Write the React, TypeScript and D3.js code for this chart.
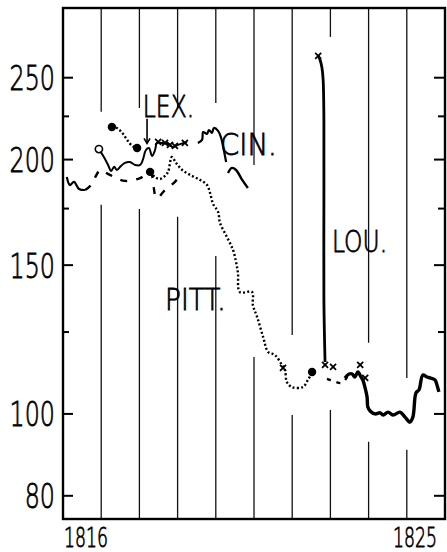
import React from "react";
import * as d3 from "d3";

type P = [number, number];

// ---- axis / tick data ----
const yMajorTicks = [80, 100, 150, 200, 250];
const yMinorTicks = [125, 175, 225];
const yearLabels: [number, string, "start" | "end"][] = [
  [1816, "1816", "start"],
  [1826, "1825", "end"],
];
const gridYears = [1817, 1818, 1819, 1820, 1821, 1822, 1823, 1824, 1825];
// visible pieces of each yearly rule, as [upper value, lower value]
const gridPieces: [number, number][][] = [
  [[302.3, 227.8], [176.8, 75.1]],
  [[302.3, 230.2], [174.8, 75.1]],
  [[302.3, 230.8], [171.1, 75.1]],
  [[302.3, 233.4], [153.8, 75.1]],
  [[302.3, 197.1], [116.8, 75.1]],
  [[302.3, 124.0], [99.7, 75.1]],
  [[302.3, 279.4], [101.1, 75.1]],
  [[302.3, 121.4], [92.7, 75.1]],
  [[302.3, 110.3], [90.7, 75.1]],
];

// ---- series ----
const lexDotted: P[] = [
  [1817.28, 218.6], [1817.41, 218.0], [1817.55, 215.1], [1817.68, 211.0],
  [1817.81, 207.6], [1817.94, 206.4],
];
const lexDots: P[] = [[1817.28, 218.6], [1817.94, 206.4]];

const cinA: P[] = [
  [1816.94, 205.8], [1817.07, 201.4], [1817.18, 197.1], [1817.26, 193.9],
  [1817.34, 196.1], [1817.41, 194.4], [1817.52, 196.6], [1817.62, 198.2],
  [1817.75, 198.7], [1817.89, 197.1], [1818.02, 197.1], [1818.09, 199.8],
  [1818.17, 205.3], [1818.25, 206.4], [1818.33, 202.0], [1818.41, 205.3],
  [1818.46, 209.3], [1818.59, 209.3], [1818.75, 208.7], [1818.88, 207.0],
  [1819.01, 208.2], [1819.25, 209.9],
];
const cinOpen: P[] = [[1816.94, 205.8]];
const cinCrosses: P[] = [
  [1818.49, 209.9], [1818.67, 209.3], [1818.8, 208.2], [1818.93, 207.6], [1819.19, 209.3],
];
const cinB: P[] = [
  [1819.53, 209.3], [1819.64, 211.0], [1819.67, 215.6], [1819.77, 214.5],
  [1819.82, 216.8], [1819.9, 215.1], [1819.95, 218.0], [1820.06, 216.3],
  [1820.14, 212.1], [1820.22, 204.2], [1820.27, 198.7],
];
const cinC: P[] = [
  [1820.32, 192.8], [1820.42, 195.5], [1820.53, 194.4], [1820.69, 189.2], [1820.84, 185.1],
];

const otherSolid: P[] = [
  [1816.1, 190.7], [1816.18, 186.6], [1816.29, 188.2], [1816.42, 184.6], [1816.58, 184.1],
];
const otherDashed: P[] = [
  [1816.58, 184.1], [1816.71, 186.1], [1816.89, 192.3], [1816.97, 194.4],
  [1817.23, 191.8], [1817.62, 188.7], [1818.02, 190.2], [1818.28, 193.4],
  [1818.45, 180.1], [1818.67, 184.1], [1818.93, 188.2], [1819.01, 190.2],
];

const pitt: P[] = [
  [1818.28, 193.4], [1818.41, 190.7], [1818.54, 189.7], [1818.67, 191.3],
  [1818.75, 193.4], [1818.85, 201.4], [1818.96, 198.2], [1819.12, 194.4],
  [1819.33, 191.8], [1819.59, 189.2], [1819.77, 186.6], [1819.85, 182.6],
  [1819.93, 177.2], [1820.06, 173.4], [1820.11, 168.3], [1820.29, 162.0],
  [1820.45, 156.4], [1820.53, 151.3], [1820.58, 146.8], [1820.63, 139.4],
  [1820.95, 139.4], [1820.97, 134.6], [1821.08, 130.3], [1821.24, 123.3],
  [1821.37, 118.4], [1821.55, 117.4], [1821.73, 114.3], [1821.81, 112.7],
  [1821.86, 109.1], [1821.99, 107.6], [1822.28, 107.6], [1822.41, 109.7],
  [1822.52, 111.8],
];
const pittDots: P[] = [[1818.28, 193.4], [1822.52, 112.1]];
const pittCross: P[] = [[1821.76, 113.4]];

const louSpike: P[] = [
  [1822.68, 265.3], [1822.73, 262.4], [1822.78, 256.7], [1822.81, 248.5],
  [1822.83, 222.8], [1822.83, 179.2], [1822.83, 136.4], [1822.86, 115.2],
];
const louCrosses: P[] = [
  [1822.68, 265.3], [1822.86, 114.3], [1823.07, 113.7], [1823.78, 114.3], [1823.91, 110.3],
];
const louDashed: P[] = [
  [1822.91, 110.0], [1823.07, 109.4], [1823.3, 108.8], [1823.44, 110.6],
];
const louThick: P[] = [
  [1823.38, 110.3], [1823.49, 111.5], [1823.57, 111.5], [1823.64, 110.6],
  [1823.72, 112.1], [1823.8, 110.6], [1823.85, 109.7], [1823.91, 107.3],
  [1823.96, 104.7], [1823.98, 101.9], [1824.04, 100.8], [1824.17, 100.0],
  [1824.3, 100.3], [1824.38, 99.7], [1824.51, 100.5], [1824.64, 99.7],
  [1824.82, 100.5], [1824.95, 99.2], [1825.08, 97.8], [1825.16, 99.2],
  [1825.24, 105.9], [1825.32, 106.8], [1825.42, 111.2], [1825.53, 110.6],
  [1825.61, 110.3], [1825.74, 109.7], [1825.79, 108.2], [1825.84, 106.2],
];

const seriesLabels: [string, number, number][] = [
  ["LEX.", 1818.09, 224.6],
  ["CIN.", 1820.11, 202.5],
  ["PITT.", 1818.67, 132.7],
  ["LOU.", 1823.04, 155.5],
];
const lexPointer: P[] = [[1818.2, 223.5], [1818.2, 209.0]];

// horizontal squeeze of the lettering (style only)
const labelSqueeze: Record<string, number> = { "LEX.": 0.78, "CIN.": 0.92, "PITT.": 0.88, "LOU.": 0.78 };

// ---- scales ----
const x = d3.scaleLinear().domain([1816, 1826]).range([63, 445]);
const y = d3.scaleLog().domain([75.1, 302.3]).range([519, 8]);
const line = d3
  .line<P>()
  .x((d) => x(d[0]))
  .y((d) => y(d[1]))
  .curve(d3.curveCatmullRom.alpha(0.5));

const FONT = "'DejaVu Sans', sans-serif";

function Cross({ p }: { p: P }) {
  const cx = x(p[0]);
  const cy = y(p[1]);
  const s = 3;
  return (
    <g stroke="#000" strokeWidth={1.8}>
      <line x1={cx - s} y1={cy - s} x2={cx + s} y2={cy + s} />
      <line x1={cx - s} y1={cy + s} x2={cx + s} y2={cy - s} />
    </g>
  );
}

export default function App() {
  return (
    <svg
      width={447}
      height={552}
      viewBox="0 0 447 552"
      style={{ position: "absolute", left: 0, top: 0, background: "#fff" }}
    >
      <rect x={0} y={0} width={447} height={552} fill="#fff" />
      {/* yearly rules */}
      {gridYears.map((yr, i) =>
        gridPieces[i].map((seg, j) => (
          <line
            key={`${yr}-${j}`}
            x1={x(yr)}
            x2={x(yr)}
            y1={y(seg[0])}
            y2={y(seg[1])}
            stroke="#111"
            strokeWidth={1.3}
          />
        ))
      )}
      {/* frame */}
      <rect
        x={x(1816)}
        y={y(302.3)}
        width={x(1826) - x(1816)}
        height={y(75.1) - y(302.3)}
        fill="none"
        stroke="#000"
        strokeWidth={2.4}
      />
      {/* ticks */}
      {yMajorTicks.map((v) => (
        <g key={`M${v}`} stroke="#000" strokeWidth={2}>
          <line x1={x(1816)} x2={x(1816) + 10} y1={y(v)} y2={y(v)} />
          <line x1={x(1826) - 11} x2={x(1826)} y1={y(v)} y2={y(v)} />
        </g>
      ))}
      {yMinorTicks.map((v) => (
        <g key={`m${v}`} stroke="#000" strokeWidth={2}>
          <line x1={x(1816)} x2={x(1816) + 6} y1={y(v)} y2={y(v)} />
          <line x1={x(1826) - 7} x2={x(1826)} y1={y(v)} y2={y(v)} />
        </g>
      ))}
      {yMajorTicks.map((v) => (
        <text
          key={`t${v}`}
          transform={`translate(55,${y(v) + 12.5}) scale(0.7,1)`}
          textAnchor="end"
          fontFamily={FONT}
          fontWeight={200}
          fontSize={34}
          fill="#000"
          stroke="#000"
          strokeWidth={0.8}
        >
          {v}
        </text>
      ))}
      {yearLabels.map(([yr, s, anchor]) => (
        <text
          key={s}
          transform={`translate(${anchor === "start" ? x(yr) + 1 : x(yr) - 8},547) scale(0.64,1)`}
          textAnchor={anchor}
          fontFamily={FONT}
          fontWeight={200}
          fontSize={27}
          fill="#000"
          stroke="#000"
          strokeWidth={0.8}
        >
          {s}
        </text>
      ))}

      {/* series */}
      <path d={line(otherSolid) || ""} fill="none" stroke="#000" strokeWidth={2.2} />
      <path
        d={line(otherDashed) || ""}
        fill="none"
        stroke="#000"
        strokeWidth={2.4}
        strokeDasharray="7,9"
      />
      <path d={line(cinA) || ""} fill="none" stroke="#000" strokeWidth={2} />
      <path d={line(cinB) || ""} fill="none" stroke="#000" strokeWidth={2.2} />
      <path d={line(cinC) || ""} fill="none" stroke="#000" strokeWidth={2.4} />
      <path
        d={line(lexDotted) || ""}
        fill="none"
        stroke="#000"
        strokeWidth={2.4}
        strokeDasharray="2,2.2"
      />
      <path
        d={line(pitt) || ""}
        fill="none"
        stroke="#000"
        strokeWidth={2.4}
        strokeDasharray="2,2.2"
      />
      <path d={line(louSpike) || ""} fill="none" stroke="#000" strokeWidth={2.8} />
      <path
        d={line(louDashed) || ""}
        fill="none"
        stroke="#000"
        strokeWidth={2.4}
        strokeDasharray="4,6"
      />
      <path d={line(louThick) || ""} fill="none" stroke="#000" strokeWidth={3.4} strokeLinejoin="round" />

      {lexDots.concat(pittDots).map((p, i) => (
        <circle key={`d${i}`} cx={x(p[0])} cy={y(p[1])} r={4.2} fill="#000" />
      ))}
      {cinOpen.map((p, i) => (
        <circle key={`o${i}`} cx={x(p[0])} cy={y(p[1])} r={3.6} fill="#fff" stroke="#000" strokeWidth={1.6} />
      ))}
      {cinCrosses.concat(louCrosses, pittCross).map((p, i) => (
        <Cross key={`x${i}`} p={p} />
      ))}

      {/* LEX pointer */}
      <line
        x1={x(lexPointer[0][0])}
        x2={x(lexPointer[1][0])}
        y1={y(lexPointer[0][1])}
        y2={y(lexPointer[1][1])}
        stroke="#000"
        strokeWidth={1.6}
      />
      <path
        d={`M${x(lexPointer[1][0]) - 3},${y(lexPointer[1][1]) - 5} L${x(lexPointer[1][0])},${y(
          lexPointer[1][1]
        )} L${x(lexPointer[1][0]) + 3},${y(lexPointer[1][1]) - 5}`}
        fill="none"
        stroke="#000"
        strokeWidth={1.6}
      />

      {seriesLabels.map(([s, yr, v]) => (
        <text
          key={s}
          transform={`translate(${x(yr)},${y(v)}) scale(${labelSqueeze[s]},1)`}
          fontFamily={FONT}
          fontWeight={200}
          fontSize={30}
          fill="#000"
          stroke="#000"
          strokeWidth={0.8}
        >
          {s}
        </text>
      ))}
    </svg>
  );
}
